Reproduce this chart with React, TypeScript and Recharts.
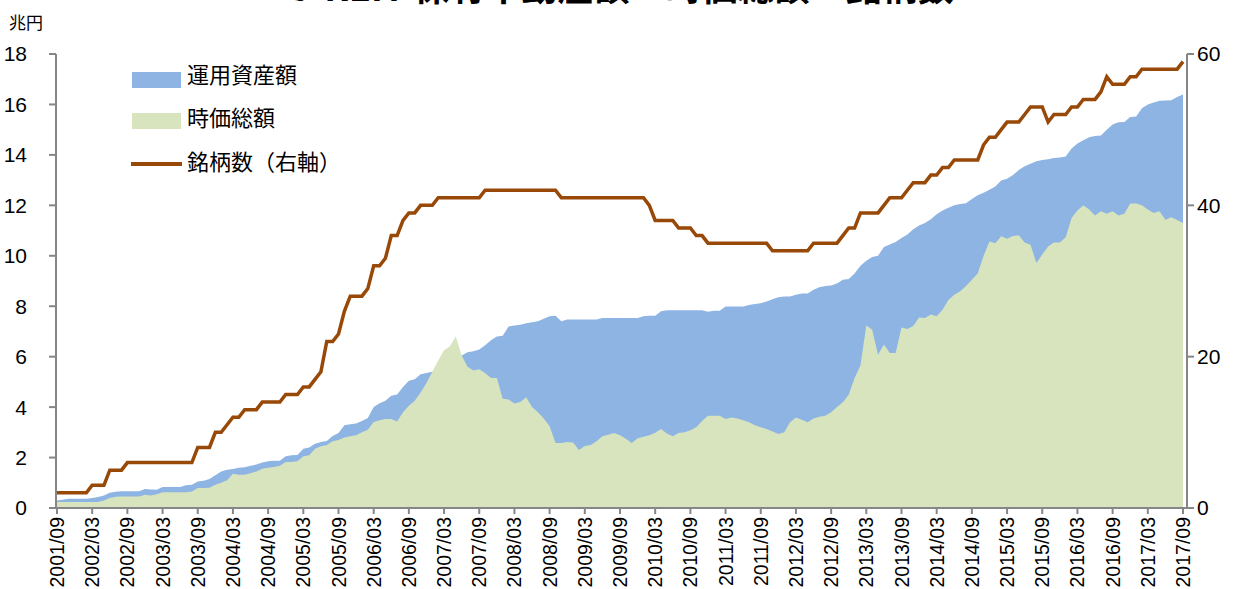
import React from 'react';
import { ComposedChart, Area, Line, XAxis, YAxis } from 'recharts';

// Monthly categories 2001/09 .. 2017/09
const months: string[] = [];
for (let i = 0; i < 193; i++) {
  const t = 2001 * 12 + 8 + i;
  const y = Math.floor(t / 12);
  const m = (t % 12) + 1;
  months.push(`${y}/${String(m).padStart(2, '0')}`);
}

// 運用資産額 (兆円)
const assets: number[] = [
  0.30, 0.33, 0.37, 0.37, 0.37, 0.37, 0.40, 0.44, 0.50, 0.60, 0.64, 0.66,
  0.66, 0.66, 0.66, 0.75, 0.73, 0.72, 0.83, 0.83, 0.83, 0.83, 0.90, 0.92,
  1.05, 1.08, 1.15, 1.30, 1.45, 1.52, 1.55, 1.60, 1.62, 1.68, 1.72, 1.80,
  1.85, 1.87, 1.87, 2.05, 2.09, 2.10, 2.35, 2.40, 2.55, 2.62, 2.66, 2.85,
  2.97, 3.28, 3.32, 3.35, 3.45, 3.57, 4.00, 4.15, 4.25, 4.45, 4.50, 4.80,
  5.05, 5.10, 5.30, 5.35, 5.40, 5.45, 5.55, 5.70, 5.90, 6.05, 6.18, 6.21,
  6.28, 6.45, 6.65, 6.80, 6.83, 7.20, 7.24, 7.27, 7.32, 7.36, 7.40, 7.50,
  7.60, 7.62, 7.40, 7.47, 7.47, 7.47, 7.47, 7.47, 7.47, 7.53, 7.53, 7.53,
  7.53, 7.53, 7.53, 7.53, 7.60, 7.62, 7.62, 7.80, 7.84, 7.84, 7.84, 7.84,
  7.84, 7.84, 7.84, 7.78, 7.82, 7.82, 7.99, 7.99, 7.99, 7.99, 8.05, 8.09,
  8.12, 8.19, 8.28, 8.36, 8.39, 8.39, 8.45, 8.50, 8.50, 8.65, 8.75, 8.80,
  8.82, 8.90, 9.05, 9.08, 9.30, 9.60, 9.80, 9.95, 10.00, 10.35, 10.45, 10.55,
  10.70, 10.84, 11.05, 11.20, 11.30, 11.45, 11.65, 11.80, 11.90, 12.00, 12.05, 12.08,
  12.25, 12.40, 12.50, 12.62, 12.75, 12.98, 13.05, 13.20, 13.40, 13.55, 13.65, 13.75,
  13.80, 13.83, 13.88, 13.90, 13.94, 14.25, 14.45, 14.58, 14.70, 14.75, 14.77, 15.00,
  15.20, 15.29, 15.30, 15.50, 15.52, 15.85, 16.00, 16.08, 16.15, 16.16, 16.17, 16.30,
  16.39,
];

// 時価総額 (兆円)
const marketCap: number[] = [
  0.24, 0.24, 0.24, 0.24, 0.24, 0.24, 0.24, 0.24, 0.30, 0.40, 0.45, 0.46,
  0.46, 0.46, 0.46, 0.53, 0.50, 0.55, 0.62, 0.62, 0.62, 0.62, 0.62, 0.65,
  0.79, 0.79, 0.80, 0.92, 1.00, 1.10, 1.36, 1.32, 1.32, 1.38, 1.45, 1.56,
  1.60, 1.63, 1.68, 1.82, 1.82, 1.85, 2.05, 2.09, 2.35, 2.45, 2.50, 2.65,
  2.70, 2.80, 2.84, 2.88, 3.00, 3.10, 3.41, 3.48, 3.53, 3.53, 3.43, 3.80,
  4.05, 4.25, 4.58, 4.96, 5.40, 5.85, 6.25, 6.41, 6.80, 6.05, 5.60, 5.45,
  5.50, 5.35, 5.15, 5.15, 4.33, 4.30, 4.14, 4.20, 4.39, 4.00, 3.80, 3.55,
  3.24, 2.58, 2.58, 2.62, 2.60, 2.30, 2.46, 2.50, 2.65, 2.84, 2.90, 2.97,
  2.88, 2.75, 2.58, 2.77, 2.82, 2.88, 2.98, 3.13, 2.95, 2.84, 2.97, 3.00,
  3.08, 3.20, 3.45, 3.66, 3.66, 3.66, 3.53, 3.59, 3.55, 3.48, 3.40, 3.28,
  3.20, 3.13, 3.03, 2.93, 3.00, 3.40, 3.59, 3.50, 3.40, 3.55, 3.62, 3.66,
  3.80, 4.00, 4.19, 4.49, 5.15, 5.65, 7.24, 7.07, 6.08, 6.48, 6.15, 6.15,
  7.16, 7.10, 7.22, 7.55, 7.53, 7.67, 7.60, 7.86, 8.25, 8.45, 8.59, 8.80,
  9.05, 9.30, 10.00, 10.57, 10.50, 10.77, 10.68, 10.78, 10.81, 10.53, 10.44, 9.71,
  10.05, 10.37, 10.53, 10.53, 10.73, 11.50, 11.80, 12.00, 11.83, 11.60, 11.77, 11.67,
  11.77, 11.60, 11.67, 12.07, 12.07, 12.00, 11.83, 11.70, 11.77, 11.43, 11.53, 11.42,
  11.30,
];

// 銘柄数 (右軸)
const listings: number[] = [
  2, 2, 2, 2, 2, 2, 3, 3, 3, 5, 5, 5,
  6, 6, 6, 6, 6, 6, 6, 6, 6, 6, 6, 6,
  8, 8, 8, 10, 10, 11, 12, 12, 13, 13, 13, 14,
  14, 14, 14, 15, 15, 15, 16, 16, 17, 18, 22, 22,
  23, 26, 28, 28, 28, 29, 32, 32, 33, 36, 36, 38,
  39, 39, 40, 40, 40, 41, 41, 41, 41, 41, 41, 41,
  41, 42, 42, 42, 42, 42, 42, 42, 42, 42, 42, 42,
  42, 42, 41, 41, 41, 41, 41, 41, 41, 41, 41, 41,
  41, 41, 41, 41, 41, 40, 38, 38, 38, 38, 37, 37,
  37, 36, 36, 35, 35, 35, 35, 35, 35, 35, 35, 35,
  35, 35, 34, 34, 34, 34, 34, 34, 34, 35, 35, 35,
  35, 35, 36, 37, 37, 39, 39, 39, 39, 40, 41, 41,
  41, 42, 43, 43, 43, 44, 44, 45, 45, 46, 46, 46,
  46, 46, 48, 49, 49, 50, 51, 51, 51, 52, 53, 53,
  53, 51, 52, 52, 52, 53, 53, 54, 54, 54, 55, 57,
  56, 56, 56, 57, 57, 58, 58, 58, 58, 58, 58, 58,
  59,
];

const leftTicks = [0, 2, 4, 6, 8, 10, 12, 14, 16, 18];
const rightTicks = [0, 20, 40, 60];

const rows = months.map((m, i) => ({
  m,
  assets: assets[i],
  mcap: marketCap[i],
  count: listings[i],
}));

const NUM_FONT = "'Liberation Sans', Arial, sans-serif";
const JP_FONT = "'Noto Sans CJK JP', 'Noto Sans', sans-serif";
const AXIS = '#868686';
const BLUE = '#8EB4E3';
const GREEN = '#D7E4BD';
const BROWN = '#984807';

const XTick = (props: any) => {
  const { x, y, payload } = props;
  return (
    <text
      x={x}
      y={y}
      transform={`rotate(-90 ${x} ${y})`}
      textAnchor="end"
      dominantBaseline="central"
      fontSize={19.5}
      fontFamily={NUM_FONT}
      fill="#000"
    >
      {payload.value}
    </text>
  );
};

export default function App() {
  return (
    <div
      style={{
        position: 'absolute',
        left: 0,
        top: 0,
        width: 1246,
        height: 589,
        overflow: 'hidden',
        background: '#fff',
      }}
    >
      <ComposedChart
        width={1246}
        height={589}
        data={rows}
        margin={{ top: 54, right: 0, bottom: 0, left: 0 }}
      >
        <XAxis
          dataKey="m"
          type="category"
          scale="point"
          interval={5}
          height={81}
          tickSize={6}
          tickMargin={3}
          tick={<XTick />}
          padding={{ left: 1, right: 4 }}
          axisLine={{ stroke: AXIS, strokeWidth: 2 }}
          tickLine={{ stroke: AXIS, strokeWidth: 2 }}
        />
        <YAxis
          yAxisId="l"
          orientation="left"
          width={56}
          domain={[0, 18]}
          ticks={leftTicks}
          interval={0}
          tickSize={7}
          tickMargin={22}
          tick={{ fontSize: 21, fill: '#000', fontFamily: NUM_FONT }}
          axisLine={{ stroke: AXIS, strokeWidth: 2 }}
          tickLine={{ stroke: AXIS, strokeWidth: 2 }}
        />
        <YAxis
          yAxisId="r"
          orientation="right"
          width={59}
          domain={[0, 60]}
          ticks={rightTicks}
          interval={0}
          tickSize={7}
          tickMargin={3}
          tick={{ fontSize: 21, fill: '#000', fontFamily: NUM_FONT }}
          axisLine={{ stroke: AXIS, strokeWidth: 2 }}
          tickLine={{ stroke: AXIS, strokeWidth: 2 }}
        />
        <Area
          yAxisId="l"
          type="linear"
          dataKey="assets"
          name="運用資産額"
          stroke="none"
          fill={BLUE}
          fillOpacity={1}
          dot={false}
          activeDot={false}
          isAnimationActive={false}
        />
        <Area
          yAxisId="l"
          type="linear"
          dataKey="mcap"
          name="時価総額"
          stroke="none"
          fill={GREEN}
          fillOpacity={1}
          dot={false}
          activeDot={false}
          isAnimationActive={false}
        />
        <Line
          yAxisId="r"
          type="linear"
          dataKey="count"
          name="銘柄数（右軸）"
          stroke={BROWN}
          strokeWidth={3.5}
          dot={false}
          activeDot={false}
          isAnimationActive={false}
        />
      </ComposedChart>

      {/* title (clipped at top in the reference) */}
      <svg style={{ position: 'absolute', left: 0, top: 0 }} width={1246} height={20}>
        <text
          x={622}
          y={1}
          textAnchor="middle"
          fontSize={36}
          fontWeight="bold"
          fontFamily={JP_FONT}
          fill="#000"
        >
          J-REIT 保有不動産額・時価総額・銘柄数
        </text>
      </svg>

      {/* unit label */}
      <div
        style={{
          position: 'absolute',
          left: 9,
          top: 13,
          fontSize: 17,
          lineHeight: '17px',
          fontFamily: JP_FONT,
          color: '#000',
          whiteSpace: 'nowrap',
        }}
      >
        兆円
      </div>

      {/* legend */}
      <div style={{ position: 'absolute', left: 132, top: 72, width: 49, height: 16, background: BLUE }} />
      <div
        style={{
          position: 'absolute', left: 187, top: 62, fontSize: 22, lineHeight: '22px',
          fontFamily: JP_FONT, color: '#000', whiteSpace: 'nowrap',
        }}
      >
        運用資産額
      </div>
      <div style={{ position: 'absolute', left: 132, top: 113, width: 49, height: 16, background: GREEN }} />
      <div
        style={{
          position: 'absolute', left: 187, top: 105, fontSize: 22, lineHeight: '22px',
          fontFamily: JP_FONT, color: '#000', whiteSpace: 'nowrap',
        }}
      >
        時価総額
      </div>
      <div style={{ position: 'absolute', left: 131, top: 162, width: 51, height: 4, background: BROWN }} />
      <div
        style={{
          position: 'absolute', left: 187, top: 149, fontSize: 22, lineHeight: '22px',
          fontFamily: JP_FONT, color: '#000', whiteSpace: 'nowrap',
        }}
      >
        銘柄数（右軸）
      </div>
    </div>
  );
}
